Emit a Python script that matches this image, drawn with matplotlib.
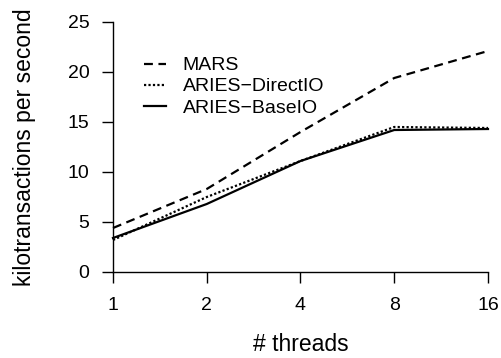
import matplotlib
matplotlib.use("Agg")
import matplotlib.pyplot as plt

plt.rcParams['font.family'] = ['Liberation Sans', 'DejaVu Sans']

threads = [1, 2, 4, 8, 16]
mars = [4.4, 8.3, 14.0, 19.4, 22.1]
aries_direct = [3.2, 7.5, 11.1, 14.5, 14.4]
aries_base = [3.4, 6.8, 11.1, 14.2, 14.3]
yticks = [0, 5, 10, 15, 20, 25]

W, H = 502, 358
fig = plt.figure(figsize=(W / 100, H / 100), dpi=100)
ax = fig.add_axes([113 / W, (H - 272) / H, 375 / W, 250 / H])

ax.plot(threads, mars, color='black', lw=1.6, ls=(0, (4, 2.5)), label='MARS', clip_on=False)
ax.plot(threads, aries_direct, color='black', lw=1.6, ls=(0, (1, 1)), label='ARIES\u2212DirectIO', clip_on=False)
ax.plot(threads, aries_base, color='black', lw=1.6, ls='-', label='ARIES\u2212BaseIO', clip_on=False)

ax.set_xscale('log', base=2)
ax.set_xlim(1, 16)
ax.set_ylim(0, 25)
ax.set_xticks(threads)
ax.set_xticklabels([str(t) for t in threads])
ax.minorticks_off()
ax.set_yticks(yticks)

for s in ['top', 'right']:
    ax.spines[s].set_visible(False)
for s in ['left', 'bottom']:
    ax.spines[s].set_linewidth(1.0)

ax.tick_params(axis='both', direction='out', length=8, width=1.0, labelsize=14)
ax.tick_params(axis='x', pad=10)
ax.tick_params(axis='y', pad=9)

ax.set_xlabel('# threads', fontsize=16.5, labelpad=14)
ax.set_ylabel('kilotransactions per second', fontsize=16.5, labelpad=23)

ax.legend(loc='upper left', bbox_to_anchor=(134 / W, (H - 47) / H),
          bbox_transform=fig.transFigure, frameon=False, fontsize=14,
          borderpad=0, handlelength=1.15, handletextpad=0.85, labelspacing=0.18)

fig.savefig('out.png', dpi=100)
